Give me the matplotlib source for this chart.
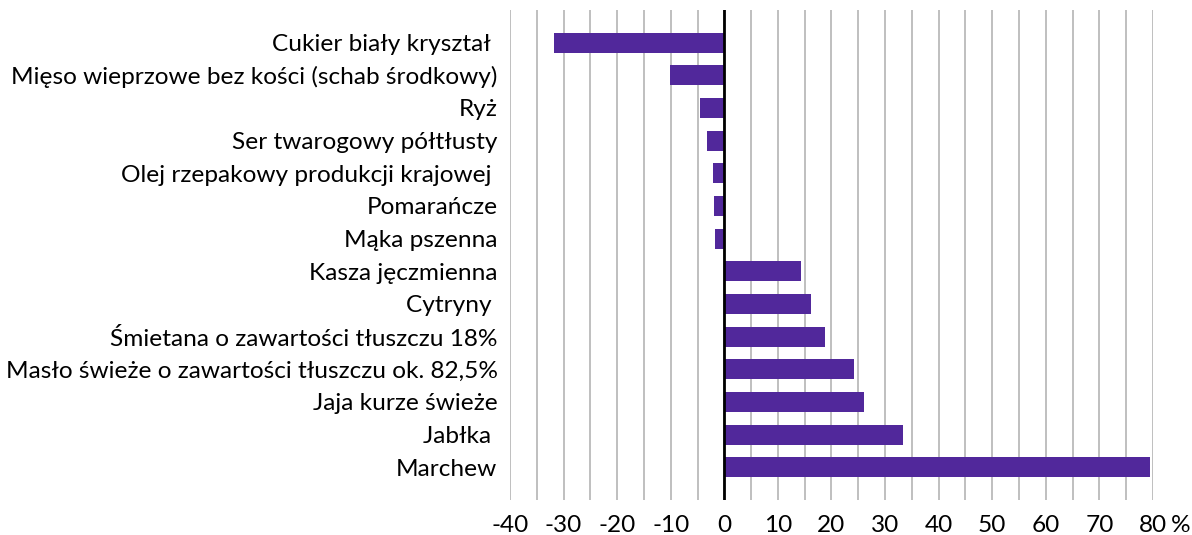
import numpy as np
import matplotlib
matplotlib.use("Agg")
import matplotlib.pyplot as plt

products = [
    "Cukier biały kryształ ",
    "Mięso wieprzowe bez kości (schab środkowy)",
    "Ryż",
    "Ser twarogowy półtłusty",
    "Olej rzepakowy produkcji krajowej ",
    "Pomarańcze",
    "Mąka pszenna",
    "Kasza jęczmienna",
    "Cytryny ",
    "Śmietana o zawartości tłuszczu 18%",
    "Masło świeże o zawartości tłuszczu ok. 82,5%",
    "Jaja kurze świeże",
    "Jabłka ",
    "Marchew",
]
change = [-31.8, -10.1, -4.5, -3.2, -2.2, -2.0, -1.8,
          14.4, 16.1, 18.7, 24.2, 26.0, 33.3, 79.4]
xticks = [-40, -30, -20, -10, 0, 10, 20, 30, 40, 50, 60, 70, 80]

plt.rcParams["font.family"] = ["Lato", "DejaVu Sans"]
FS = 17.6

fig = plt.figure(figsize=(11.92, 5.35), dpi=100)
ax = fig.add_axes([510 / 1192, 35 / 535, (1153 - 510) / 1192, 490 / 535])

y = np.arange(len(products))
for gx in np.arange(-40, 81, 5):
    ax.axvline(gx, color="#b4b4b4", lw=1.2, zorder=0)
ax.barh(y, change, height=0.61, color="#51289b", zorder=2)
ax.axvline(0, color="black", lw=2, zorder=3)

ax.set_xlim(-40, 80)
ax.set_ylim(len(products), -1)
ax.set_yticks(y)
ax.set_yticklabels(products, fontsize=FS)
ax.set_xticks(xticks)
ax.set_xticklabels([str(t) for t in xticks], fontsize=FS)
ax.tick_params(length=0, axis="y", pad=9)
ax.tick_params(length=0, axis="x", pad=11)
ax.annotate("%", xy=(80, 0), xycoords=("data", "axes fraction"),
            xytext=(13, -11), textcoords="offset points",
            ha="left", va="top", fontsize=FS)
for s in ax.spines.values():
    s.set_visible(False)

fig.savefig("out.png", dpi=100)
